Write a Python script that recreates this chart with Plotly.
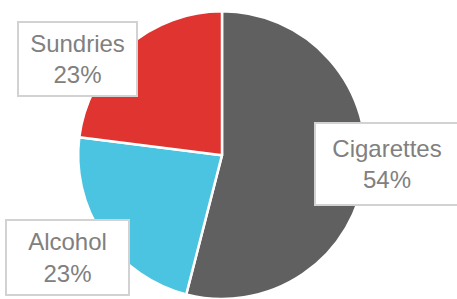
import plotly.graph_objects as go

labels = ["Cigarettes", "Alcohol", "Sundries"]
values = [54, 23, 23]
colors = ["#606060", "#4bc4e1", "#df3430"]

# label box placement (paper coords, centre) and sizes
box_x = [387 / 457, 67.5 / 457, 77.5 / 457]
box_y = [1 - 163.5 / 299, 1 - 257.5 / 299, 1 - 59 / 299]
box_w = [142, 121, 117]
box_h = [80, 73, 72]

fig = go.Figure(go.Pie(
    labels=labels,
    values=values,
    sort=False,
    direction="clockwise",
    rotation=0,
    marker=dict(colors=colors, line=dict(color="white", width=2.5)),
    textinfo="none",
    hoverinfo="label+percent",
    domain=dict(x=[(222 - 145) / 457, (222 + 145) / 457], y=[0, 0.962]),
    showlegend=False,
))

total = sum(values)
for lab, v, x, y, w, h in zip(labels, values, box_x, box_y, box_w, box_h):
    fig.add_annotation(
        x=x, y=y, xref="paper", yref="paper",
        xanchor="center", yanchor="middle",
        text=f"{lab}<br>{round(100 * v / total)}%",
        showarrow=False,
        width=w, height=h,
        bgcolor="white",
        bordercolor="#d2d2d2",
        borderwidth=2,
        borderpad=0,
        font=dict(family="Liberation Sans, Arial, sans-serif", size=24, color="#808080"),
    )

fig.update_layout(
    width=457, height=299,
    margin=dict(l=0, r=0, t=0, b=0),
    paper_bgcolor="white",
    plot_bgcolor="white",
)

fig.write_html(
    "out.html",
    config={"displayModeBar": False},
    post_script="document.body.style.margin='0';",
)
